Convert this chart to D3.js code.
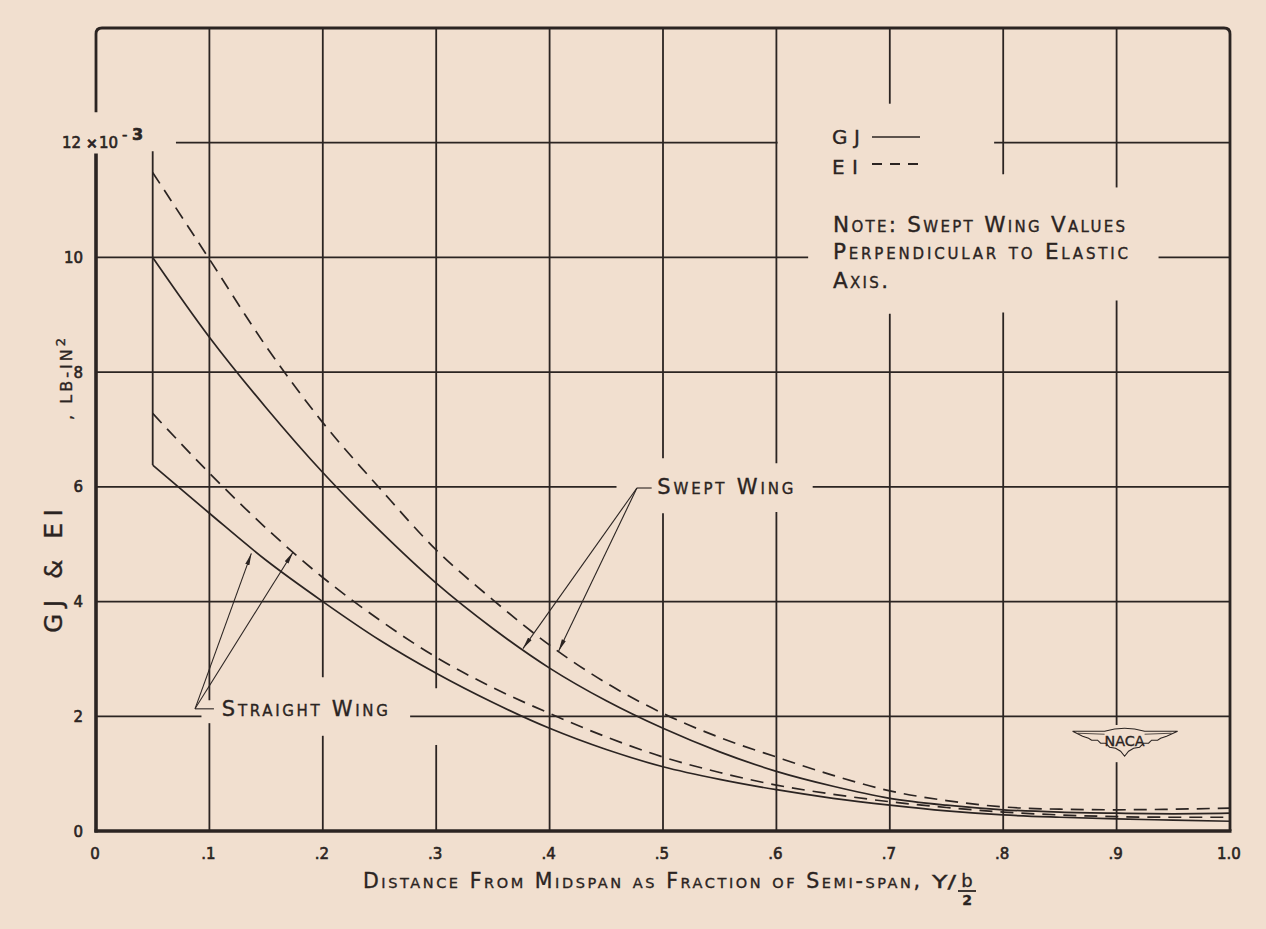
<!DOCTYPE html>
<html><head><meta charset="utf-8">
<script src="https://cdn.jsdelivr.net/npm/d3@7"></script>
<style>
html,body{margin:0;padding:0;background:#f1dfcf;}
svg{display:block}
text{font-family:"DejaVu Sans",sans-serif;fill:#2b2422;stroke:#2b2422;stroke-width:0.35px;}
</style></head><body>
<svg id="chart" width="1266" height="929"></svg>
<script>
// ---- data ----
const xValues     = [0.05,0.1,0.15,0.2,0.25,0.3,0.35,0.4,0.45,0.5,0.55,0.6,0.65,0.7,0.75,0.8,0.85,0.9,0.95,1.0];
const sweptGJ     = [10.0,8.61,7.38,6.25,5.24,4.32,3.53,2.84,2.27,1.79,1.38,1.04,0.78,0.57,0.45,0.37,0.33,0.31,0.30,0.31];
const sweptEI     = [11.48,9.97,8.45,7.12,5.98,4.90,4.03,3.24,2.58,2.05,1.63,1.29,0.97,0.70,0.53,0.42,0.38,0.37,0.38,0.40];
const straightGJ  = [6.38,5.54,4.72,4.00,3.33,2.75,2.24,1.79,1.42,1.12,0.90,0.72,0.57,0.45,0.35,0.28,0.24,0.21,0.19,0.17];
const straightEI  = [7.28,6.24,5.28,4.42,3.68,3.03,2.50,2.05,1.64,1.29,1.02,0.80,0.64,0.51,0.41,0.33,0.28,0.25,0.24,0.24];
const rootSegment = [[0.05,11.85],[0.05,6.38]];
const xTicks      = [0,0.1,0.2,0.3,0.4,0.5,0.6,0.7,0.8,0.9,1.0];
const xTickLabels = ["0",".1",".2",".3",".4",".5",".6",".7",".8",".9","1.0"];
const yTicks      = [0,2,4,6,8,10];
const yTickLabels = ["0","2","4","6","8","10"];

// grid segments (value, list of [from,to] in data units) — drawn with gaps as in the original
const vGrid = [
  [0.1,[[0,1.88],[2.28,14]]],
  [0.2,[[0,1.66],[2.68,14]]],
  [0.3,[[0,1.50],[2.49,14]]],
  [0.4,[[0,14]]],
  [0.5,[[0,5.54],[6.50,14]]],
  [0.6,[[0,5.56],[6.41,14]]],
  [0.7,[[0,9.02],[12.68,14]]],
  [0.8,[[0,9.04],[11.45,14]]],
  [0.9,[[0,1.20],[1.85,9.25],[11.22,14]]]
];
const hGrid = [
  [2,[[0,0.093],[0.277,1]]],
  [4,[[0,1]]],
  [6,[[0,0.459],[0.632,1]]],
  [8,[[0,1]]],
  [10,[[0,0.628],[0.937,1]]],
  [12,[[0.0705,0.601],[0.792,1]]]
];

const ink = "#2b2422";
const paper = "#f1dfcf";
const svg = d3.select("#chart");
svg.append("rect").attr("width",1266).attr("height",929).attr("fill",paper);

const x = d3.scaleLinear().domain([0,1]).range([96,1230]);
const y = d3.scaleLinear().domain([0,14]).range([831,28]);

// markers
svg.append("defs").append("marker")
  .attr("id","arr").attr("viewBox","0 0 12 6").attr("refX",12).attr("refY",3)
  .attr("markerWidth",12).attr("markerHeight",6).attr("markerUnits","userSpaceOnUse")
  .attr("orient","auto")
  .append("path").attr("d","M0,0.8 L12,3 L0,5.2 Z").attr("fill",ink);

// grid
const g = svg.append("g").attr("stroke",ink).attr("stroke-width",1.8);
vGrid.forEach(([v,segs])=>segs.forEach(([a,b])=>{
  g.append("line").attr("x1",x(v)).attr("x2",x(v)).attr("y1",y(a)).attr("y2",y(b));
}));
hGrid.forEach(([v,segs])=>segs.forEach(([a,b])=>{
  g.append("line").attr("y1",y(v)).attr("y2",y(v)).attr("x1",x(a)).attr("x2",x(b));
}));

// frame
const r = 6;
svg.append("path")
  .attr("d",`M${x(0)},${y(12.53)} L${x(0)},${y(14)+r} Q${x(0)},${y(14)} ${x(0)+r},${y(14)} L${x(1)-r},${y(14)} Q${x(1)},${y(14)} ${x(1)},${y(14)+r} L${x(1)},${y(0)}`)
  .attr("fill","none").attr("stroke",ink).attr("stroke-width",2.8);
svg.append("line").attr("x1",x(0)).attr("x2",x(0)).attr("y1",y(11.81)).attr("y2",y(0)+1.5)
  .attr("stroke",ink).attr("stroke-width",3.6);
svg.append("line").attr("x1",x(0)-1.5).attr("x2",x(1)+1.5).attr("y1",y(0)).attr("y2",y(0))
  .attr("stroke",ink).attr("stroke-width",3.6);

// curves
const line = d3.line().x(d=>x(d[0])).y(d=>y(d[1])).curve(d3.curveMonotoneX);
const series = [
  {vals:sweptGJ, dash:null},
  {vals:sweptEI, dash:"13,8"},
  {vals:straightGJ, dash:null},
  {vals:straightEI, dash:"13,8"}
];
series.forEach(s=>{
  svg.append("path").datum(xValues.map((xv,i)=>[xv,s.vals[i]]))
    .attr("d",line).attr("fill","none").attr("stroke",ink).attr("stroke-width",1.7)
    .attr("stroke-dasharray",s.dash);
});
svg.append("path").datum(rootSegment).attr("d",d3.line().x(d=>x(d[0])).y(d=>y(d[1])))
  .attr("fill","none").attr("stroke",ink).attr("stroke-width",1.8);

// tick labels
svg.append("g").selectAll("text").data(yTicks).join("text")
  .attr("x",x(0)-13).attr("y",d=>y(d)+5.5).attr("text-anchor","end")
  .attr("font-size",15).style("stroke-width","0.6px").text((d,i)=>yTickLabels[i]);
const t12 = svg.append("text").attr("y",y(12)+5).attr("font-size",15).style("stroke-width","0.6px");
t12.append("tspan").attr("x",62).text("12");
t12.append("tspan").attr("x",86).attr("font-size",14).attr("font-weight","bold").text("×");
t12.append("tspan").attr("x",99).text("10");
t12.append("tspan").attr("x",122).attr("dy",-8).attr("font-size",15).text("-");
t12.append("tspan").attr("x",132).attr("font-size",16).attr("font-weight","bold").text("3");

svg.append("g").selectAll("text").data(xTicks).join("text")
  .attr("x",d=>x(d)-1).attr("y",y(0)+28).attr("text-anchor","middle")
  .attr("font-size",15).style("stroke-width","0.6px").text((d,i)=>xTickLabels[i]);

// small-caps helper
function smallCaps(sel, str, big, small){
  let run="", runSize=null;
  const flush=()=>{ if(run){ sel.append("tspan").attr("font-size",runSize).text(run); run=""; } };
  for(const ch of str){
    const isLower = ch!==ch.toUpperCase();
    const sz = isLower?small:big;
    if(sz!==runSize){ flush(); runSize=sz; }
    run += ch.toUpperCase();
  }
  flush();
  return sel;
}

// axis titles
smallCaps(svg.append("text").attr("x",363).attr("y",888)
  .attr("textLength",557).attr("lengthAdjust","spacing"),
  "Distance From Midspan as Fraction of Semi-span,", 20.5, 14.5);
svg.append("text").attr("x",932).attr("y",888).attr("font-size",17)
  .attr("textLength",24).attr("lengthAdjust","spacingAndGlyphs").text("Y/");
svg.append("text").attr("x",967).attr("y",887).attr("font-size",18).attr("text-anchor","middle").text("b");
svg.append("line").attr("x1",958).attr("x2",976).attr("y1",891).attr("y2",891).attr("stroke",ink).attr("stroke-width",1.8);
svg.append("text").attr("x",967).attr("y",905).attr("font-size",14).attr("text-anchor","middle").attr("font-weight","bold").text("2");

svg.append("text").attr("transform","translate(62,571) rotate(-90)")
  .attr("text-anchor","middle").attr("font-size",25)
  .attr("textLength",124).attr("lengthAdjust","spacing").text("GJ & EI");
const lbt = svg.append("text").attr("transform","translate(72,379) rotate(-90)")
  .attr("text-anchor","middle").attr("textLength",82).attr("lengthAdjust","spacing");
lbt.append("tspan").attr("font-size",16).text(", LB-IN");
lbt.append("tspan").attr("font-size",13).attr("dy",-7).text("2");

// legend
svg.append("text").attr("x",832).attr("y",144).attr("font-size",20)
  .attr("textLength",28).attr("lengthAdjust","spacing").text("GJ");
svg.append("line").attr("x1",872).attr("x2",920).attr("y1",137).attr("y2",137).attr("stroke",ink).attr("stroke-width",1.7);
svg.append("text").attr("x",832).attr("y",174).attr("font-size",20)
  .attr("textLength",26).attr("lengthAdjust","spacing").text("EI");
svg.append("line").attr("x1",872).attr("x2",920).attr("y1",164).attr("y2",164).attr("stroke",ink).attr("stroke-width",1.9).attr("stroke-dasharray","10,8");

// note
const noteLines = [["Note: Swept Wing Values",232,292],["Perpendicular to Elastic",259,295],["Axis.",288,55]];
noteLines.forEach(([s,by,w])=>{
  smallCaps(svg.append("text").attr("x",833).attr("y",by).attr("textLength",w).attr("lengthAdjust","spacing"), s, 21.5, 15);
});

// annotations
function leader(joint, stubEnd, tips, label, textX, textY, width){
  const a = svg.append("g").attr("stroke",ink).attr("stroke-width",1.1).attr("fill","none");
  a.append("line").attr("x1",x(joint[0])).attr("y1",y(joint[1])).attr("x2",x(stubEnd[0])).attr("y2",y(stubEnd[1]));
  tips.forEach(t=>{
    a.append("line").attr("x1",x(joint[0])).attr("y1",y(joint[1])).attr("x2",x(t[0])).attr("y2",y(t[1]))
      .attr("marker-end","url(#arr)");
  });
  smallCaps(svg.append("text").attr("x",x(textX)).attr("y",y(textY)).attr("textLength",width).attr("lengthAdjust","spacing"), label, 21, 15);
}
leader([0.477,5.98],[0.490,5.98],[[0.3765,3.18],[0.408,3.14]],"Swept Wing",0.495,5.88,136);
leader([0.0873,2.13],[0.104,2.13],[[0.137,4.84],[0.1737,4.86]],"Straight Wing",0.111,2.0,166);

// NACA emblem
const em = svg.append("g").attr("transform",`translate(${x(0.9)+8},${y(1.6)})`);
em.append("path").attr("d","M-52,-8 L-20,-8 Q-10,-11 0,-11 Q10,-11 20,-8 L53,-8 L42,-3 L36,-1 L33,1 L27,1 L24,4 L19,4 L15,8 L9,9 L4,12 L0,17 L-4,12 L-9,9 L-15,8 L-19,4 L-24,4 L-27,1 L-33,1 L-36,-1 L-42,-3 Z")
  .attr("fill",paper).attr("stroke",ink).attr("stroke-width",1.1);
em.append("path").attr("d","M-47,-6 L-20,-5 M47,-6 L20,-5").attr("stroke",ink).attr("stroke-width",0.8).attr("fill","none");
em.append("text").attr("x",0).attr("y",7).attr("text-anchor","middle").attr("font-size",14)
  .attr("textLength",40).attr("lengthAdjust","spacingAndGlyphs").text("NACA");
</script>
</body></html>
